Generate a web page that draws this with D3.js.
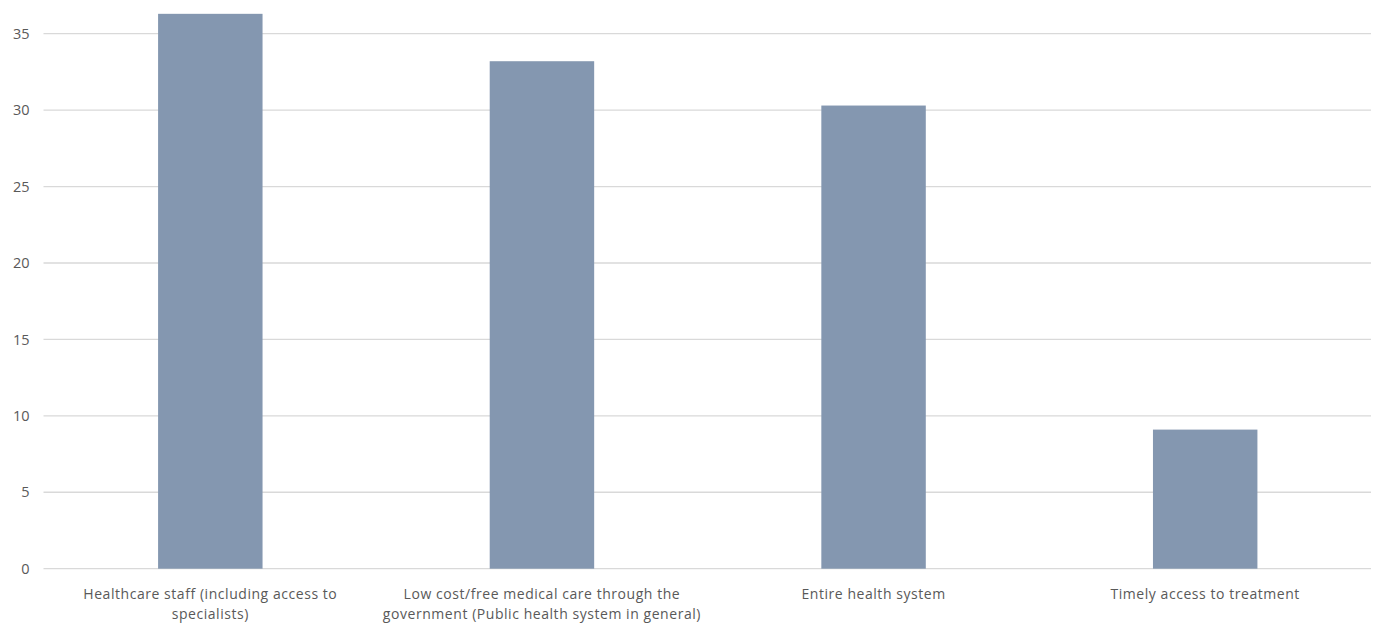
<!DOCTYPE html>
<html>
<head>
<meta charset="utf-8">
<script src="https://cdn.jsdelivr.net/npm/d3@7"></script>
<style>
  html, body { margin: 0; padding: 0; background: #ffffff; }
  svg { display: block; }
  text { font-family: "Open Sans", "Liberation Sans", sans-serif; }
</style>
</head>
<body>
<svg id="chart" width="1377" height="623"></svg>
<script>
// Categories (each entry is a list of wrapped label lines)
const categories = [
  ["Healthcare staff (including access to", "specialists)"],
  ["Low cost/free medical care through the", "government (Public health system in general)"],
  ["Entire health system"],
  ["Timely access to treatment"]
];
const values = [36.3, 33.2, 30.3, 9.1];
const yTicks = [0, 5, 10, 15, 20, 25, 30, 35];

const width = 1377, height = 623;
const margin = { top: 33.7, right: 6, bottom: 54.3, left: 44.5 };

const svg = d3.select("#chart");

const x = d3.scaleBand()
  .domain(d3.range(categories.length))
  .range([margin.left, width - margin.right])
  .paddingInner(0.685)
  .paddingOuter(0.3425);

const y = d3.scaleLinear()
  .domain([0, 35])
  .range([height - margin.bottom, margin.top]);

// Horizontal gridlines
svg.append("g")
  .selectAll("line")
  .data(yTicks)
  .join("line")
  .attr("x1", 43.5)
  .attr("x2", width - margin.right)
  .attr("y1", d => y(d))
  .attr("y2", d => y(d))
  .attr("stroke", "#d9d9d9")
  .attr("stroke-width", 1.3);

// Y axis labels
const yAxis = d3.axisLeft(y).tickValues(yTicks).tickSize(0).tickPadding(15);
const gy = svg.append("g")
  .attr("transform", `translate(${margin.left},0)`)
  .call(yAxis);
gy.select(".domain").remove();
gy.selectAll("text")
  .attr("fill", "#595959")
  .style("font-size", "14.5px")
  .style("font-family", "'Open Sans', sans-serif");

// Bars
svg.append("g")
  .selectAll("rect")
  .data(values)
  .join("rect")
  .attr("x", (d, i) => x(i))
  .attr("width", x.bandwidth())
  .attr("y", d => y(d))
  .attr("height", d => y(0) - y(d))
  .attr("fill", "#8497b0");

// Category labels
const labels = svg.append("g")
  .selectAll("text")
  .data(categories)
  .join("text")
  .attr("text-anchor", "middle")
  .attr("fill", "#595959")
  .style("font-size", "14px")
  .style("letter-spacing", "0.55px")
  .attr("x", (d, i) => x(i) + x.bandwidth() / 2)
  .attr("y", y(0) + 30);
labels.selectAll("tspan")
  .data(d => d)
  .join("tspan")
  .attr("x", function () { return this.parentNode.getAttribute("x"); })
  .attr("dy", (d, i) => i === 0 ? 0 : 20)
  .text(d => d);
</script>
</body>
</html>
